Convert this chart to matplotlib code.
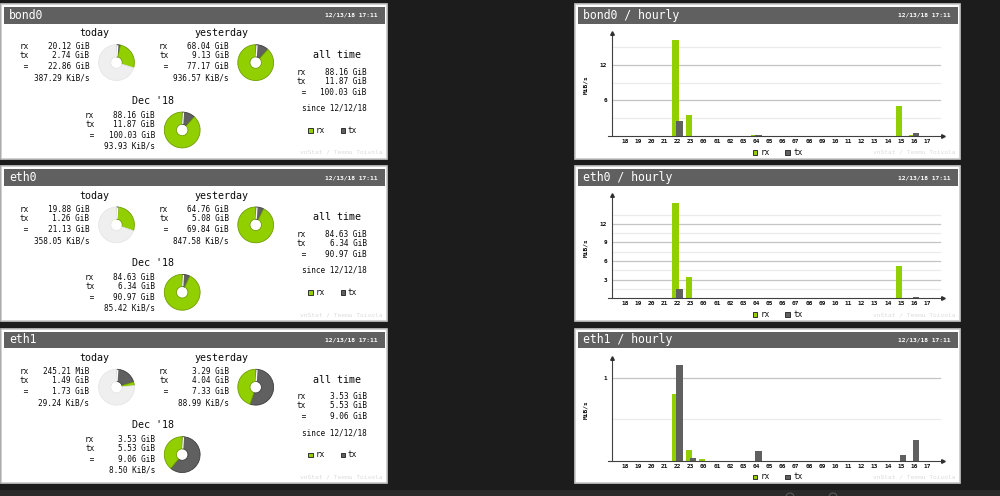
import matplotlib.pyplot as plt
from matplotlib.patches import Rectangle, Circle

plt.rcParams['font.family'] = ['DejaVu Sans Mono']

W, H = 1000, 496

# ---- data ----
ifaces = ["bond0", "eth0", "eth1"]
stamp = "12/13/18 17:11"
month_name = "Dec '18"
since_txt = "since 12/12/18"

today_rx = ["20.12 GiB", "19.88 GiB", "245.21 MiB"]
today_tx = ["2.74 GiB", "1.26 GiB", "1.49 GiB"]
today_tot = ["22.86 GiB", "21.13 GiB", "1.73 GiB"]
today_rate = ["387.29 KiB/s", "358.05 KiB/s", "29.24 KiB/s"]

yest_rx = ["68.04 GiB", "64.76 GiB", "3.29 GiB"]
yest_tx = ["9.13 GiB", "5.08 GiB", "4.04 GiB"]
yest_tot = ["77.17 GiB", "69.84 GiB", "7.33 GiB"]
yest_rate = ["936.57 KiB/s", "847.58 KiB/s", "88.99 KiB/s"]

month_rx = ["88.16 GiB", "84.63 GiB", "3.53 GiB"]
month_tx = ["11.87 GiB", "6.34 GiB", "5.53 GiB"]
month_tot = ["100.03 GiB", "90.97 GiB", "9.06 GiB"]
month_rate = ["93.93 KiB/s", "85.42 KiB/s", "8.50 KiB/s"]

hours = ["18", "19", "20", "21", "22", "23", "00", "01", "02", "03", "04", "05",
         "06", "07", "08", "09", "10", "11", "12", "13", "14", "15", "16", "17"]

# MiB/s per hour
bond0_rx = [0, 0, 0, 0, 16.2, 3.55, 0, 0, 0, 0, 0.1, 0, 0, 0, 0, 0, 0, 0, 0, 0, 0, 5.1, 0.15, 0]
bond0_tx = [0, 0, 0, 0, 2.5, 0, 0, 0, 0, 0, 0.12, 0, 0, 0, 0, 0, 0, 0, 0, 0, 0, 0, 0.45, 0]
eth0_rx = [0, 0, 0, 0, 15.4, 3.43, 0, 0, 0, 0, 0.1, 0, 0, 0, 0, 0, 0, 0, 0, 0, 0, 5.2, 0.1, 0]
eth0_tx = [0, 0, 0, 0, 1.45, 0, 0, 0, 0, 0, 0.03, 0, 0, 0, 0, 0, 0, 0, 0, 0, 0, 0, 0.15, 0]
eth1_rx = [0, 0, 0, 0, 0.806, 0.126, 0.024, 0, 0, 0, 0, 0, 0, 0, 0, 0, 0, 0, 0, 0, 0, 0, 0, 0]
eth1_tx = [0, 0, 0, 0, 1.146, 0.036, 0, 0, 0, 0, 0.11, 0, 0, 0, 0, 0, 0, 0, 0, 0, 0, 0.071, 0.245, 0]

hourly_rx = [bond0_rx, eth0_rx, eth1_rx]
hourly_tx = [bond0_tx, eth0_tx, eth1_tx]

# axis setup per hourly chart: labelled ticks, light gridlines, top of the y axis
major_ticks = [[6, 12], [3, 6, 9, 12], [1]]
minor_ticks = [[3, 9, 15], [1.5, 4.5, 7.5, 10.5, 13.5], [0.5]]
y_tops = [17.35, 16.6, 1.24]

# ---- style ----
BG = '#1c1c1c'
GREEN = '#92cf00'
GREEN_E = '#6f9e00'
TXC = '#606060'
TXC_E = '#3c3c3c'
HEAD = '#606060'
EDGE = '#c8c8c8'
TEXT = '#0a0a0a'
DY = 162.3


def gib(s):
    v, u = s.split()
    return float(v) / {'KiB': 1024 ** 2, 'MiB': 1024, 'GiB': 1, 'TiB': 1 / 1024}[u]


fig = plt.figure(figsize=(10, 4.96), dpi=100, facecolor=BG)
bg = fig.add_axes([0, 0, 1, 1])
bg.set_xlim(0, W)
bg.set_ylim(H, 0)
bg.axis('off')
bg.add_patch(Rectangle((0, 490), W, 6, color='#2a2a2a', lw=0))
for cx in (790, 833):
    bg.add_patch(Circle((cx, 497), 4, fill=False, ec='#5a5a5a', lw=0.8))


def panel(x0, x1, oy, title):
    bg.add_patch(Rectangle((x0, 4 + oy), x1 - x0, 154.7, fc='white', ec=EDGE, lw=1.2))
    bg.add_patch(Rectangle((x0 + 2.5, 7 + oy), x1 - x0 - 5, 16.5, fc=HEAD, lw=0))
    bg.text(x0 + 8, 15.3 + oy, title, color='white', fontsize=8.3, va='center')
    bg.text(x1 - 9.5, 15.3 + oy, stamp, color='white', fontsize=4.5,
            fontweight='bold', va='center', ha='right')
    bg.text(x1 - 4.5, 152.3 + oy, "vnStat / Teemu Toivola", color='#dcdcdc',
            fontsize=4.5, va='center', ha='right')


def rows(xl, xr, ys, vals, oy):
    for lab, y, v in zip(["rx", "tx", " ="], ys, vals):
        bg.text(xl, y + oy, lab, fontsize=5.6, color=TEXT, va='center')
        bg.text(xr, y + oy, v, fontsize=5.6, color=TEXT, va='center', ha='right')
    if len(vals) > 3:
        bg.text(xr, ys[3] + oy, vals[3], fontsize=5.6, color=TEXT, va='center', ha='right')


def donut(cx, cy, tx, rx, ref):
    r = 18.8
    ax = fig.add_axes([(cx - r) / W, 1 - (cy + r) / H, 2 * r / W, 2 * r / H])
    rest = max(ref - tx - rx, 0)
    vals, cols, eds = [], [], []
    for v, c, e in [(tx, TXC, TXC_E), (rx, GREEN, GREEN_E), (rest, '#efefef', '#e6e6e6')]:
        if v > 0:
            vals.append(v)
            cols.append(c)
            eds.append(e)
    wedges, _ = ax.pie(vals, colors=cols, startangle=90, counterclock=False, radius=1,
                       wedgeprops=dict(width=1 - 6.0 / r, linewidth=0.6))
    for w, e in zip(wedges, eds):
        w.set_edgecolor(e)
    ax.plot([0.03, 0.07], [0.34, 0.97], color='white', lw=0.9, solid_capstyle='butt')
    ax.set_xlim(-1.05, 1.05)
    ax.set_ylim(-1.05, 1.05)
    ax.axis('off')


for k, name in enumerate(ifaces):
    oy = k * DY

    # ---- summary panel ----
    panel(1, 387, oy, name)
    bg.text(94.3, 33.3 + oy, "today", fontsize=7.2, color=TEXT, va='center', ha='center')
    rows(19.3, 89.3, [46.7, 56, 66.7, 78.3],
         [today_rx[k], today_tx[k], today_tot[k], today_rate[k]], oy)
    bg.text(221, 33.3 + oy, "yesterday", fontsize=7.2, color=TEXT, va='center', ha='center')
    rows(159, 228.7, [46.7, 56, 66.7, 78.3],
         [yest_rx[k], yest_tx[k], yest_tot[k], yest_rate[k]], oy)
    bg.text(153.3, 100.7 + oy, month_name, fontsize=7.2, color=TEXT, va='center', ha='center')
    rows(85, 155, [115, 124.3, 135, 145.7],
         [month_rx[k], month_tx[k], month_tot[k], month_rate[k]], oy)
    bg.text(336.7, 55 + oy, "all time", fontsize=7.2, color=TEXT, va='center', ha='center')
    rows(296.7, 366.7, [72.3, 81, 92.3], [month_rx[k], month_tx[k], month_tot[k]], oy)
    bg.text(334.3, 108 + oy, since_txt, fontsize=5.6, color=TEXT, va='center', ha='center')
    bg.add_patch(Rectangle((308, 128 + oy), 4.5, 4.5, fc=GREEN, ec='#333333', lw=0.7))
    bg.text(315.5, 130.2 + oy, "rx", fontsize=5.6, color=TEXT, va='center')
    bg.add_patch(Rectangle((340.7, 128 + oy), 4.5, 4.5, fc=TXC, ec='#333333', lw=0.7))
    bg.text(348, 130.2 + oy, "tx", fontsize=5.6, color=TEXT, va='center')

    t_tx, t_rx = gib(today_tx[k]), gib(today_rx[k])
    y_tx, y_rx = gib(yest_tx[k]), gib(yest_rx[k])
    ref = max(t_tx + t_rx, y_tx + y_rx)
    donut(116.5, 62.6 + oy, t_tx, t_rx, ref)
    donut(255.7, 62.6 + oy, y_tx, y_rx, ref)
    donut(182.2, 130 + oy, gib(month_tx[k]), gib(month_rx[k]), 0)

    # ---- hourly panel ----
    panel(575, 960, oy, name + " / hourly")
    left, right, bottom, top = 612, 943, 136 + oy, 33 + oy
    ax = fig.add_axes([left / W, 1 - bottom / H, (right - left) / W, (bottom - top) / H])
    ax.set_facecolor('none')
    ax.set_xlim(-0.99, 24.2)
    ax.set_ylim(0, y_tops[k])
    for g in minor_ticks[k]:
        ax.plot([-0.99, 23.97], [g, g], color='#ebebeb', lw=0.9, zorder=0)
    for g in major_ticks[k]:
        ax.plot([-0.99, 23.97], [g, g], color='#c4c4c4', lw=0.9, zorder=0)
    xs = list(range(len(hours)))
    ax.bar([i - 0.15 for i in xs], hourly_rx[k], 0.48, color=GREEN, lw=0, zorder=2)
    ax.bar([i + 0.15 for i in xs], hourly_tx[k], 0.48, color=TXC, lw=0, zorder=3)
    for s in ax.spines.values():
        s.set_visible(False)
    ax.plot([0, 0], [0, 1], transform=ax.transAxes, color='#404040', lw=0.8, clip_on=False, zorder=4)
    ax.plot([0], [1], marker='^', ms=2.6, color='#303030', transform=ax.transAxes, clip_on=False, zorder=4)
    ax.plot([-0.012, 1], [0, 0], transform=ax.transAxes, color='#404040', lw=0.8, clip_on=False, zorder=4)
    ax.plot([1], [0], marker='>', ms=2.6, color='#303030', transform=ax.transAxes, clip_on=False, zorder=4)
    ax.set_xticks(xs, hours)
    ax.set_yticks(major_ticks[k], [str(g) for g in major_ticks[k]])
    ax.tick_params(length=0, labelsize=4.4, labelcolor=TEXT)
    ax.tick_params(axis='x', pad=2.2)
    ax.tick_params(axis='y', pad=3.3)
    for lab in ax.get_xticklabels() + ax.get_yticklabels():
        lab.set_fontweight('bold')
    bg.text(585.3, 85 + oy, "MiB/s", fontsize=4.4, fontweight='bold', color=TEXT,
            rotation=90, va='center', ha='center')
    bg.add_patch(Rectangle((752.7, 150 + oy), 4.5, 4.5, fc=GREEN, ec='#333333', lw=0.7))
    bg.text(760.5, 152.2 + oy, "rx", fontsize=5.6, color=TEXT, va='center')
    bg.add_patch(Rectangle((785, 150 + oy), 4.5, 4.5, fc=TXC, ec='#333333', lw=0.7))
    bg.text(793, 152.2 + oy, "tx", fontsize=5.6, color=TEXT, va='center')

fig.savefig("out.png", dpi=100, facecolor=BG)
